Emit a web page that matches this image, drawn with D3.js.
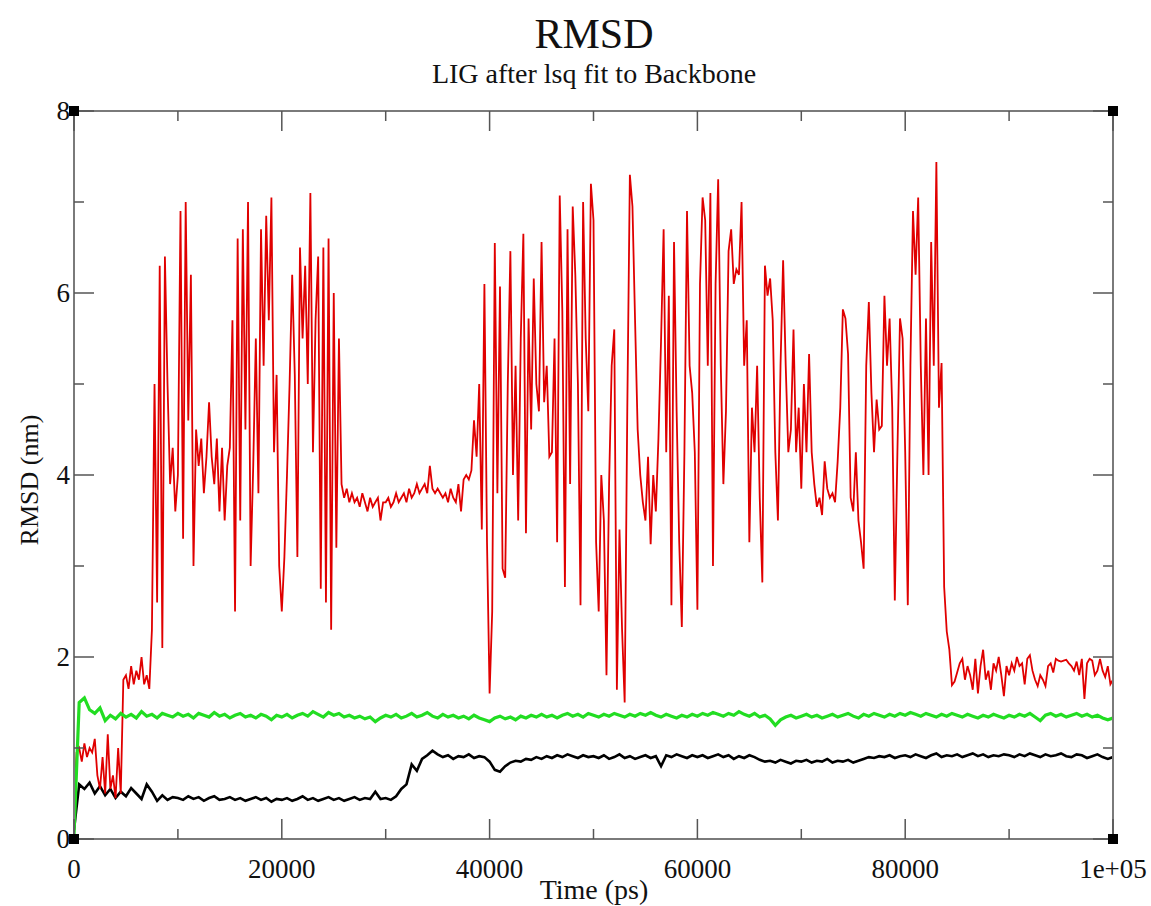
<!DOCTYPE html>
<html>
<head>
<meta charset="utf-8">
<script src="https://cdn.jsdelivr.net/npm/d3@7"></script>
<style>
	body { margin: 0; background: #fff; }
	text { font-family: 'Liberation Serif', 'DejaVu Serif', serif; fill: #111; }
</style>
</head>
<body>
<div class="container"></div>
<script>
// time step of each series (ps)
var redStep = 250;
var lineStep = 500;

var redRmsd = [
	0.35, 0.95, 1.0, 0.85, 1.05, 0.9, 1.0, 0.95, 1.1, 0.7, 0.55, 0.9, 0.5, 1.15, 0.55, 0.7, 0.45, 1.0, 0.5, 1.75,
	1.8, 1.65, 1.9, 1.7, 1.85, 1.75, 2.0, 1.7, 1.8, 1.65, 2.3, 5.0, 2.6, 6.3, 2.1, 6.4, 5.0, 3.9, 4.3, 3.6,
	4.0, 6.9, 3.3, 7.0, 4.6, 6.2, 3.0, 4.5, 4.1, 4.4, 3.8, 4.2, 4.8, 4.2, 3.9, 4.4, 3.6, 4.3, 3.5, 4.1,
	4.3, 5.7, 2.5, 6.6, 3.5, 6.7, 4.5, 7.0, 3.0, 4.1, 5.5, 3.8, 6.7, 5.2, 6.85, 5.7, 7.05, 4.25, 5.1, 3.0,
	2.5, 3.1, 4.0, 5.0, 6.2, 5.1, 3.1, 6.5, 5.5, 6.3, 5.0, 7.1, 4.25, 5.7, 6.4, 2.75, 6.5, 2.6, 6.6, 2.3,
	6.0, 3.2, 5.5, 3.9, 3.75, 3.85, 3.7, 3.8, 3.7, 3.75, 3.65, 3.8, 3.7, 3.6, 3.75, 3.65, 3.7, 3.75, 3.5, 3.7,
	3.7, 3.75, 3.65, 3.7, 3.8, 3.7, 3.75, 3.8, 3.7, 3.85, 3.75, 3.8, 3.9, 3.8, 3.85, 3.9, 3.8, 4.1, 3.85, 3.8,
	3.85, 3.8, 3.75, 3.8, 3.7, 3.85, 3.75, 3.7, 3.9, 3.6, 3.95, 4.0, 3.95, 4.05, 4.6, 4.2, 5.0, 3.4, 6.1, 3.26,
	1.6, 2.5, 6.55, 3.8, 6.07, 2.97, 2.87, 5.0, 6.46, 4.0, 5.2, 3.5, 5.5, 6.65, 3.36, 5.72, 4.5, 6.16, 5.0, 4.7,
	6.56, 4.8, 5.2, 4.2, 4.25, 5.5, 3.26, 7.07, 5.8, 2.77, 6.7, 3.9, 6.95, 6.2, 5.0, 2.57, 7.0, 5.5, 4.7, 7.2,
	6.8, 3.26, 2.5, 4.0, 3.5, 1.8, 3.9, 5.2, 5.6, 1.64, 3.4, 2.3, 1.5, 4.7, 7.3, 6.95, 5.7, 4.5, 4.0, 3.7,
	3.5, 4.2, 3.24, 4.0, 3.6, 4.4, 5.47, 6.7, 4.25, 5.97, 2.57, 6.56, 4.7, 3.26, 2.33, 4.25, 6.9, 5.2, 4.9, 4.25,
	2.52, 6.1, 7.05, 6.8, 5.2, 7.1, 3.0, 6.1, 7.25, 5.2, 3.9, 4.7, 6.46, 6.7, 6.1, 6.26, 6.2, 7.0, 5.2, 5.7,
	3.26, 4.74, 4.25, 5.2, 3.75, 2.82, 6.3, 5.97, 6.16, 5.7, 4.25, 3.5, 5.2, 6.36, 5.2, 4.25, 4.5, 5.6, 4.25, 4.74,
	3.85, 5.0, 4.25, 5.33, 4.25, 3.9, 3.65, 3.75, 3.56, 4.15, 3.85, 3.75, 3.8, 3.7, 4.15, 4.74, 5.82, 5.72, 5.33, 3.75,
	3.6, 4.25, 3.5, 3.26, 2.97, 5.2, 5.9, 4.9, 4.25, 4.83, 4.5, 4.54, 5.97, 5.2, 5.72, 4.74, 2.62, 4.25, 5.72, 5.5,
	4.25, 2.57, 5.2, 6.9, 6.2, 7.05, 5.2, 4.0, 5.72, 4.0, 6.56, 5.2, 7.44, 4.74, 5.23, 2.77, 2.28, 2.08, 1.69, 1.73,
	1.83, 1.93, 1.98, 1.75, 1.9, 1.8, 1.64, 1.98, 1.6, 1.9, 2.08, 1.75, 1.85, 1.64, 1.93, 1.85, 2.0, 1.8, 1.57, 1.9,
	1.8, 1.93, 1.85, 2.0, 1.9, 1.93, 1.7, 1.98, 2.02, 1.85, 1.75, 1.68, 1.8, 1.75, 1.68, 1.9, 1.93, 1.83, 1.98, 1.96,
	1.95, 1.96, 1.97, 1.93, 1.9, 1.85, 1.95, 1.8, 1.98, 1.54, 1.93, 1.98, 1.96, 1.8, 1.85, 1.98, 1.85, 1.78, 1.9, 1.7,
	1.75
];

var greenRmsd = [
	0.05, 1.5, 1.55, 1.42, 1.38, 1.44, 1.3, 1.36, 1.32, 1.38, 1.34, 1.37, 1.33, 1.4, 1.35, 1.37, 1.33, 1.38, 1.36, 1.34,
	1.38, 1.35, 1.37, 1.33, 1.38, 1.36, 1.34, 1.39, 1.35, 1.37, 1.33, 1.36, 1.38, 1.34, 1.36, 1.33, 1.37, 1.35, 1.31, 1.36,
	1.34, 1.37, 1.33, 1.36, 1.38, 1.35, 1.4, 1.37, 1.34, 1.39, 1.36, 1.38, 1.34, 1.36, 1.33, 1.35, 1.32, 1.34, 1.29, 1.33,
	1.36, 1.34, 1.37, 1.33, 1.35, 1.38, 1.34, 1.36, 1.39, 1.35, 1.33, 1.37, 1.34, 1.36, 1.33, 1.35, 1.32, 1.36, 1.33, 1.31,
	1.29, 1.33, 1.35, 1.32, 1.34, 1.31, 1.35, 1.33, 1.36, 1.34, 1.37, 1.34, 1.36, 1.33, 1.36, 1.38, 1.35, 1.37, 1.34, 1.38,
	1.36, 1.34, 1.37, 1.35, 1.38, 1.36, 1.34, 1.37, 1.35, 1.38, 1.36, 1.39, 1.36, 1.34, 1.37, 1.35, 1.33, 1.36, 1.34, 1.37,
	1.35, 1.38, 1.36, 1.39, 1.37, 1.35, 1.38, 1.36, 1.4, 1.37, 1.35, 1.38, 1.34, 1.36, 1.32, 1.25, 1.31, 1.34, 1.36, 1.33,
	1.35, 1.37, 1.34, 1.36, 1.33, 1.35, 1.37, 1.34, 1.36, 1.38, 1.35, 1.33, 1.37, 1.35, 1.38, 1.36, 1.34, 1.37, 1.35, 1.38,
	1.36, 1.39, 1.37, 1.35, 1.38, 1.36, 1.34, 1.37, 1.35, 1.38, 1.36, 1.34, 1.37, 1.35, 1.33, 1.36, 1.34, 1.37, 1.35, 1.33,
	1.36, 1.34, 1.37, 1.35, 1.38, 1.34, 1.3, 1.36, 1.38, 1.35, 1.37, 1.34, 1.36, 1.38, 1.35, 1.37, 1.34, 1.36, 1.33, 1.31,
	1.33
];

var blackRmsd = [
	0.1, 0.6, 0.55, 0.62, 0.5, 0.58, 0.48, 0.55, 0.45, 0.52, 0.47, 0.56, 0.5, 0.44, 0.6, 0.52, 0.42, 0.48, 0.43, 0.46,
	0.45, 0.43, 0.47, 0.44, 0.46, 0.42, 0.45, 0.47, 0.43, 0.44, 0.46, 0.43, 0.45, 0.42, 0.44, 0.46, 0.43, 0.45, 0.41, 0.44,
	0.43, 0.45, 0.42, 0.44, 0.47, 0.43, 0.45, 0.42, 0.44, 0.46, 0.43, 0.45, 0.42, 0.44, 0.46, 0.43, 0.45, 0.44, 0.52, 0.44,
	0.45, 0.43, 0.47, 0.55, 0.6, 0.82, 0.75, 0.88, 0.92, 0.97, 0.93, 0.9, 0.92, 0.88, 0.91, 0.9, 0.93, 0.89, 0.91, 0.9,
	0.85, 0.76, 0.74, 0.8, 0.84, 0.86, 0.85, 0.88, 0.87, 0.9, 0.88, 0.91, 0.89, 0.92, 0.9, 0.93, 0.91, 0.89, 0.92, 0.9,
	0.91, 0.89, 0.92, 0.88, 0.9, 0.93, 0.89, 0.91, 0.88, 0.9, 0.92, 0.89, 0.91, 0.8, 0.92, 0.9, 0.93, 0.91, 0.89, 0.92,
	0.9, 0.92, 0.89, 0.91, 0.93, 0.9, 0.92, 0.88, 0.91, 0.89, 0.92, 0.9, 0.87, 0.85, 0.86, 0.84, 0.87, 0.85, 0.83, 0.86,
	0.85, 0.87, 0.84, 0.86, 0.85, 0.88, 0.84, 0.86, 0.85, 0.87, 0.84, 0.86, 0.88, 0.9, 0.89, 0.91, 0.9, 0.92, 0.89, 0.91,
	0.92, 0.9, 0.93, 0.91, 0.89, 0.92, 0.94, 0.9, 0.92, 0.91, 0.93, 0.9, 0.92, 0.94, 0.91, 0.93, 0.9, 0.92, 0.91, 0.93,
	0.92, 0.9, 0.93, 0.91, 0.94, 0.92, 0.9, 0.93, 0.91, 0.92, 0.94, 0.91, 0.9, 0.93, 0.92, 0.89, 0.91, 0.93, 0.9, 0.88,
	0.9
];

var xTicks = [0, 20000, 40000, 60000, 80000, 100000];
var xTickLabels = ['0', '20000', '40000', '60000', '80000', '1e+05'];
var xMinorTicks = [10000, 30000, 50000, 70000, 90000];
var yTicks = [0, 2, 4, 6, 8];
var yMinorTicks = [1, 3, 5, 7];

var plotLeft = 74, plotRight = 1113, plotTop = 111, plotBottom = 839;

var svg = d3
	.select('.container')
	.append('svg')
	.attr('width', 1151)
	.attr('height', 906);

var x = d3.scaleLinear().domain([0, 100000]).range([plotLeft, plotRight]);
var y = d3.scaleLinear().domain([0, 8]).range([plotBottom, plotTop]);

svg.append('defs')
	.append('clipPath')
	.attr('id', 'plot')
	.append('rect')
	.attr('x', plotLeft)
	.attr('y', plotTop)
	.attr('width', plotRight - plotLeft)
	.attr('height', plotBottom - plotTop);

function lineFor(step) {
	return d3
		.line()
		.x(function(d, i) {
			return x(i * step);
		})
		.y(function(d) {
			return y(d);
		});
}

var lines = svg.append('g').attr('clip-path', 'url(#plot)');

lines
	.append('path')
	.attr('d', lineFor(lineStep)(blackRmsd))
	.attr('fill', 'none')
	.attr('stroke', '#000')
	.attr('stroke-width', 2.6);

lines
	.append('path')
	.attr('d', lineFor(redStep)(redRmsd))
	.attr('fill', 'none')
	.attr('stroke', '#e00000')
	.attr('stroke-width', 1.8);

lines
	.append('path')
	.attr('d', lineFor(lineStep)(greenRmsd))
	.attr('fill', 'none')
	.attr('stroke', '#22dd22')
	.attr('stroke-width', 3.2);

// frame
svg.append('rect')
	.attr('x', plotLeft)
	.attr('y', plotTop)
	.attr('width', plotRight - plotLeft)
	.attr('height', plotBottom - plotTop)
	.attr('fill', 'none')
	.attr('stroke', '#7a7a7a')
	.attr('stroke-width', 2);

// inward ticks on all four sides
var axes = svg.append('g').attr('stroke', '#555').attr('stroke-width', 1.5);

function xTickMarks(values, len) {
	values.forEach(function(v) {
		axes.append('line').attr('x1', x(v)).attr('x2', x(v)).attr('y1', plotBottom).attr('y2', plotBottom - len);
		axes.append('line').attr('x1', x(v)).attr('x2', x(v)).attr('y1', plotTop).attr('y2', plotTop + len);
	});
}
function yTickMarks(values, len) {
	values.forEach(function(v) {
		axes.append('line').attr('x1', plotLeft).attr('x2', plotLeft + len).attr('y1', y(v)).attr('y2', y(v));
		axes.append('line').attr('x1', plotRight).attr('x2', plotRight - len).attr('y1', y(v)).attr('y2', y(v));
	});
}
xTickMarks(xTicks, 20);
xTickMarks(xMinorTicks, 10);
yTickMarks(yTicks, 20);
yTickMarks(yMinorTicks, 10);

// corner handles
[[plotLeft, plotTop], [plotRight, plotTop], [plotLeft, plotBottom], [plotRight, plotBottom]].forEach(function(c) {
	svg.append('rect')
		.attr('x', c[0] - 5)
		.attr('y', c[1] - 5)
		.attr('width', 10)
		.attr('height', 10)
		.attr('fill', '#000');
});

svg.append('g')
	.selectAll('text')
	.data(xTicks)
	.enter()
	.append('text')
	.attr('x', function(d) {
		return x(d);
	})
	.attr('y', 878)
	.attr('text-anchor', 'middle')
	.attr('font-size', 27)
	.text(function(d, i) {
		return xTickLabels[i];
	});

svg.append('g')
	.selectAll('text')
	.data(yTicks)
	.enter()
	.append('text')
	.attr('x', 70)
	.attr('y', function(d) {
		return y(d) + 9;
	})
	.attr('text-anchor', 'end')
	.attr('font-size', 27)
	.text(function(d) {
		return d;
	});

svg.append('text')
	.attr('x', 594)
	.attr('y', 48)
	.attr('text-anchor', 'middle')
	.attr('font-size', 42)
	.text('RMSD');

svg.append('text')
	.attr('x', 594)
	.attr('y', 83)
	.attr('text-anchor', 'middle')
	.attr('font-size', 28)
	.text('LIG after lsq fit to Backbone');

svg.append('text')
	.attr('x', 594)
	.attr('y', 899)
	.attr('text-anchor', 'middle')
	.attr('font-size', 28)
	.text('Time (ps)');

svg.append('text')
	.attr('transform', 'translate(38, 480) rotate(-90)')
	.attr('text-anchor', 'middle')
	.attr('font-size', 26)
	.text('RMSD (nm)');
</script>
</body>
</html>
